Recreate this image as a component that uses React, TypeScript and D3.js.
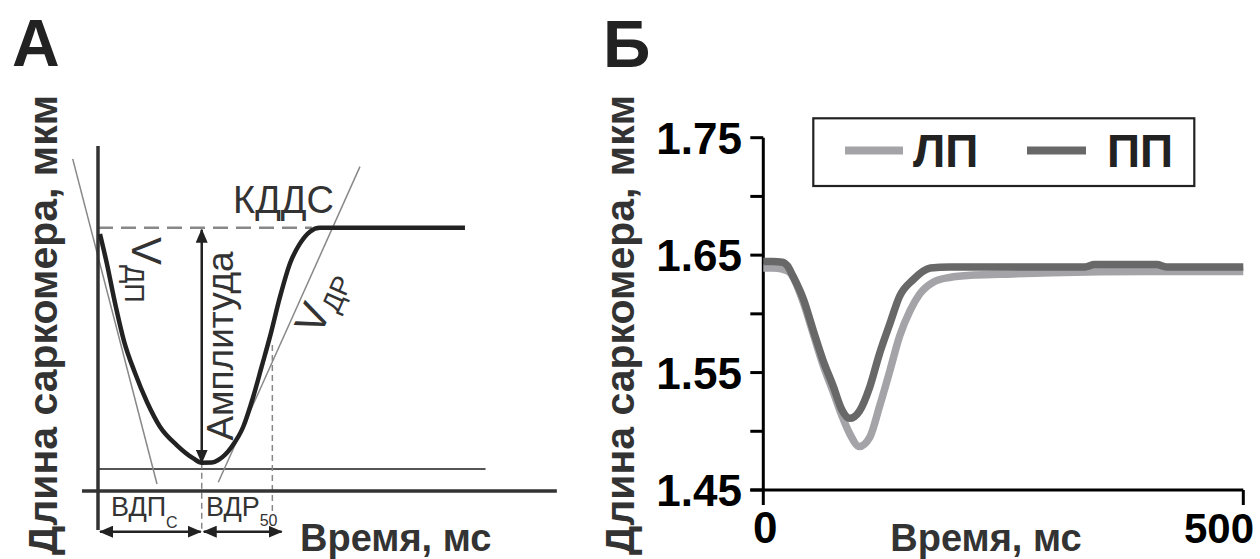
import React from 'react';
import * as d3 from 'd3';

// ---------- Panel Б data (sarcomere length, µm vs time, ms) ----------
const timeLP = [0, 10, 20, 28, 33, 42, 52, 62, 73, 82, 90, 100, 111, 121, 132, 142, 153, 163, 177, 194, 220, 260, 300, 400, 500];
const valuesLP = [1.639, 1.639, 1.638, 1.635, 1.628, 1.609, 1.583, 1.557, 1.533, 1.513, 1.498, 1.487, 1.495, 1.521, 1.552, 1.581, 1.603, 1.617, 1.627, 1.631, 1.633, 1.634, 1.635, 1.636, 1.636];
const timePP = [0, 10, 20, 25, 31, 42, 52, 62, 73, 82, 90, 100, 111, 121, 132, 142, 156, 174, 194, 250, 300, 335, 345, 410, 420, 500];
const valuesPP = [1.6445, 1.6445, 1.644, 1.641, 1.632, 1.612, 1.586, 1.561, 1.538, 1.518, 1.511, 1.517, 1.538, 1.566, 1.592, 1.615, 1.629, 1.639, 1.640, 1.640, 1.640, 1.640, 1.642, 1.642, 1.640, 1.640];
const yTicksMajor = [1.45, 1.55, 1.65, 1.75];
const yTicksMinor = [1.5, 1.6, 1.7];
const xTicksB = [0, 500];
const legendLabels = ['ЛП', 'ПП'];
const seriesColors = ['#a3a3a8', '#686868'];

// ---------- Panel А schematic data ----------
const timeA = [1.7, 7.6, 14.8, 22.6, 32.2, 42.6, 53.9, 68.4, 82.9, 90.2, 99.1, 104.6, 116.3, 126.3, 135, 142.3, 149.6, 158.3, 167, 175.7, 184.3, 193, 319.1];
const lenA = [1.6452, 1.6232, 1.5928, 1.5639, 1.5396, 1.5176, 1.4988, 1.4849, 1.4748, 1.4715, 1.4716, 1.4735, 1.4836, 1.4988, 1.5216, 1.5444, 1.5674, 1.5976, 1.623, 1.6381, 1.647, 1.65, 1.65];
const tangentLeft = [[-22, 1.7023], [51.3, 1.4553]];
const tangentRight = [[104.6, 1.4566], [227.8, 1.6964]];
const diastolicLevel = 1.65;
const minLevel = 1.4715;
const baselineLevel = 1.4667;
const tMin = 90.2;
const tRelax50 = 151.6;
const tArrowEnd = 159.7;

const SANS = "'Liberation Sans', Arial, Helvetica, sans-serif";

export default function App() {
  // Panel А scales
  const xA = d3.scaleLinear().domain([0, 400]).range([98, 558]);
  const yA = d3.scaleLinear().domain([1.45, 1.65]).range([491, 227.7]);
  // Panel Б scales
  const xB = d3.scaleLinear().domain([0, 500]).range([763.3, 1243.3]);
  const yB = d3.scaleLinear().domain([1.45, 1.75]).range([490, 137.7]);

  const lineA = d3.line<number>().x((_, i) => xA(timeA[i])).y((d) => yA(d)).curve(d3.curveMonotoneX);
  const lineLP = d3.line<number>().x((_, i) => xB(timeLP[i])).y((d) => yB(d)).curve(d3.curveMonotoneX);
  const linePP = d3.line<number>().x((_, i) => xB(timePP[i])).y((d) => yB(d)).curve(d3.curveMonotoneX);

  const yArrow = yA(1.4191);
  const axisColor = '#333';

  return (
    <svg width={1260} height={559} style={{ position: 'absolute', left: 0, top: 0, background: '#fff' }} fontFamily={SANS}>
      <defs>
        <marker id="arr" markerUnits="userSpaceOnUse" markerWidth={14} markerHeight={12} refX={13} refY={6} orient="auto-start-reverse">
          <path d="M0,0 L14,6 L0,12 Z" fill="#222" />
        </marker>
      </defs>
      <rect x={0} y={0} width={1260} height={559} fill="#fff" />

      {/* ================= Panel А ================= */}
      <text x={12} y={66} fontSize={66} fontWeight="bold" fill="#222">А</text>
      <text transform={`translate(57,325) rotate(-90)`} textAnchor="middle" fontSize={41} fontWeight="bold" fill="#333">Длина саркомера, мкм</text>

      {/* baseline (minimum level) */}
      <line x1={xA(0)} x2={xA(337)} y1={yA(baselineLevel)} y2={yA(baselineLevel)} stroke="#555" strokeWidth={2} />
      {/* diastolic length dashed */}
      <line x1={xA(0)} x2={xA(186)} y1={yA(diastolicLevel)} y2={yA(diastolicLevel)} stroke="#888" strokeWidth={2.5} strokeDasharray="15 8" />
      {/* tangents */}
      <line x1={xA(tangentLeft[0][0])} y1={yA(tangentLeft[0][1])} x2={xA(tangentLeft[1][0])} y2={yA(tangentLeft[1][1])} stroke="#888" strokeWidth={1.5} />
      <line x1={xA(tangentRight[0][0])} y1={yA(tangentRight[0][1])} x2={xA(tangentRight[1][0])} y2={yA(tangentRight[1][1])} stroke="#888" strokeWidth={1.5} />
      {/* vertical dashed guides */}
      <line x1={xA(tMin)} x2={xA(tMin)} y1={yA(minLevel)} y2={yArrow} stroke="#888" strokeWidth={1.5} strokeDasharray="6 4" />
      <line x1={xA(tRelax50)} x2={xA(tRelax50)} y1={yA(1.5609)} y2={yA(1.4318)} stroke="#888" strokeWidth={1.5} strokeDasharray="6 4" />

      {/* axes */}
      <line x1={xA(0)} x2={xA(0)} y1={yA(1.712)} y2={yA(1.4204)} stroke={axisColor} strokeWidth={3.5} />
      <line x1={xA(-13.9)} x2={xA(399)} y1={yA(1.45)} y2={yA(1.45)} stroke={axisColor} strokeWidth={3.5} />

      {/* curve */}
      <path d={lineA(lenA) || ''} fill="none" stroke="#222" strokeWidth={4.5} strokeLinejoin="round" />

      {/* amplitude arrow */}
      <line x1={xA(tMin)} x2={xA(tMin)} y1={yA(diastolicLevel) + 2} y2={yA(minLevel)} stroke="#222" strokeWidth={2.5} markerStart="url(#arr)" markerEnd="url(#arr)" />
      <text transform={`translate(233,346) rotate(-90)`} textAnchor="middle" fontSize={37} fill="#333">Амплитуда</text>

      {/* bottom double arrows */}
      <line x1={xA(0) + 2} x2={xA(tMin) - 1} y1={yArrow} y2={yArrow} stroke="#222" strokeWidth={2.5} markerStart="url(#arr)" markerEnd="url(#arr)" />
      <line x1={xA(tMin) + 2} x2={xA(tArrowEnd)} y1={yArrow} y2={yArrow} stroke="#222" strokeWidth={2.5} markerStart="url(#arr)" markerEnd="url(#arr)" />

      {/* labels */}
      <text x={233} y={213} fontSize={38} fill="#333">КДДС</text>
      <text transform="translate(132,237) rotate(90)" fontSize={42} fill="#333">
        V<tspan fontSize={27} dy={7}>ДП</tspan>
      </text>
      <text transform="translate(320,337) rotate(-66)" fontSize={42} fill="#333">
        V<tspan fontSize={27} dy={7}>ДР</tspan>
      </text>
      <text x={111} y={516} fontSize={27} fill="#333">ВДП<tspan fontSize={16} dy={12}>С</tspan></text>
      <text x={206} y={516} fontSize={27} fill="#333">ВДР<tspan fontSize={16} dy={10}>50</tspan></text>
      <text x={300} y={551} fontSize={38} fontWeight="bold" fill="#333">Время, мс</text>

      {/* ================= Panel Б ================= */}
      <text x={603} y={67} fontSize={66} fontWeight="bold" fill="#222">Б</text>
      <text transform={`translate(634,325) rotate(-90)`} textAnchor="middle" fontSize={41} fontWeight="bold" fill="#333">Длина саркомера, мкм</text>

      {/* y axis */}
      <line x1={xB(0)} x2={xB(0)} y1={yB(1.75)} y2={yB(1.45)} stroke="#000" strokeWidth={3} />
      {yTicksMajor.concat(yTicksMinor).map((t) => (
        <line key={'yt' + t} x1={xB(0) - 13} x2={xB(0)} y1={yB(t)} y2={yB(t)} stroke="#000" strokeWidth={3} />
      ))}
      {yTicksMajor.map((t) => (
        <text key={'yl' + t} x={742} y={yB(t) + 16} textAnchor="end" fontSize={44} fontWeight="bold" fill="#000">{t.toFixed(2)}</text>
      ))}
      {/* x axis */}
      <line x1={xB(0) - 13} x2={xB(500)} y1={yB(1.45)} y2={yB(1.45)} stroke="#000" strokeWidth={3} />
      {xTicksB.map((t) => (
        <line key={'xt' + t} x1={xB(t)} x2={xB(t)} y1={yB(1.45)} y2={yB(1.45) + 15} stroke="#000" strokeWidth={3} />
      ))}
      <text x={xB(0) + 2} y={543} textAnchor="middle" fontSize={44} fontWeight="bold" fill="#000">{xTicksB[0]}</text>
      <text x={1254} y={543} textAnchor="end" fontSize={42} fontWeight="bold" fill="#000">{xTicksB[1]}</text>
      <text x={986} y={551} textAnchor="middle" fontSize={38} fontWeight="bold" fill="#333">Время, мс</text>

      {/* data lines */}
      <path d={lineLP(valuesLP) || ''} fill="none" stroke={seriesColors[0]} strokeWidth={7.5} strokeLinejoin="round" />
      <path d={linePP(valuesPP) || ''} fill="none" stroke={seriesColors[1]} strokeWidth={7.5} strokeLinejoin="round" />

      {/* legend */}
      <rect x={813.3} y={118.3} width={381} height={67.7} fill="#fff" stroke="#222" strokeWidth={2.2} />
      <line x1={845} x2={903} y1={150.5} y2={150.5} stroke={seriesColors[0]} strokeWidth={8} />
      <text x={913} y={166.7} fontSize={46} fontWeight="bold" fill="#222">{legendLabels[0]}</text>
      <line x1={1027} x2={1086} y1={150.5} y2={150.5} stroke={seriesColors[1]} strokeWidth={8} />
      <text x={1107} y={166.7} fontSize={46} fontWeight="bold" fill="#222">{legendLabels[1]}</text>
    </svg>
  );
}
